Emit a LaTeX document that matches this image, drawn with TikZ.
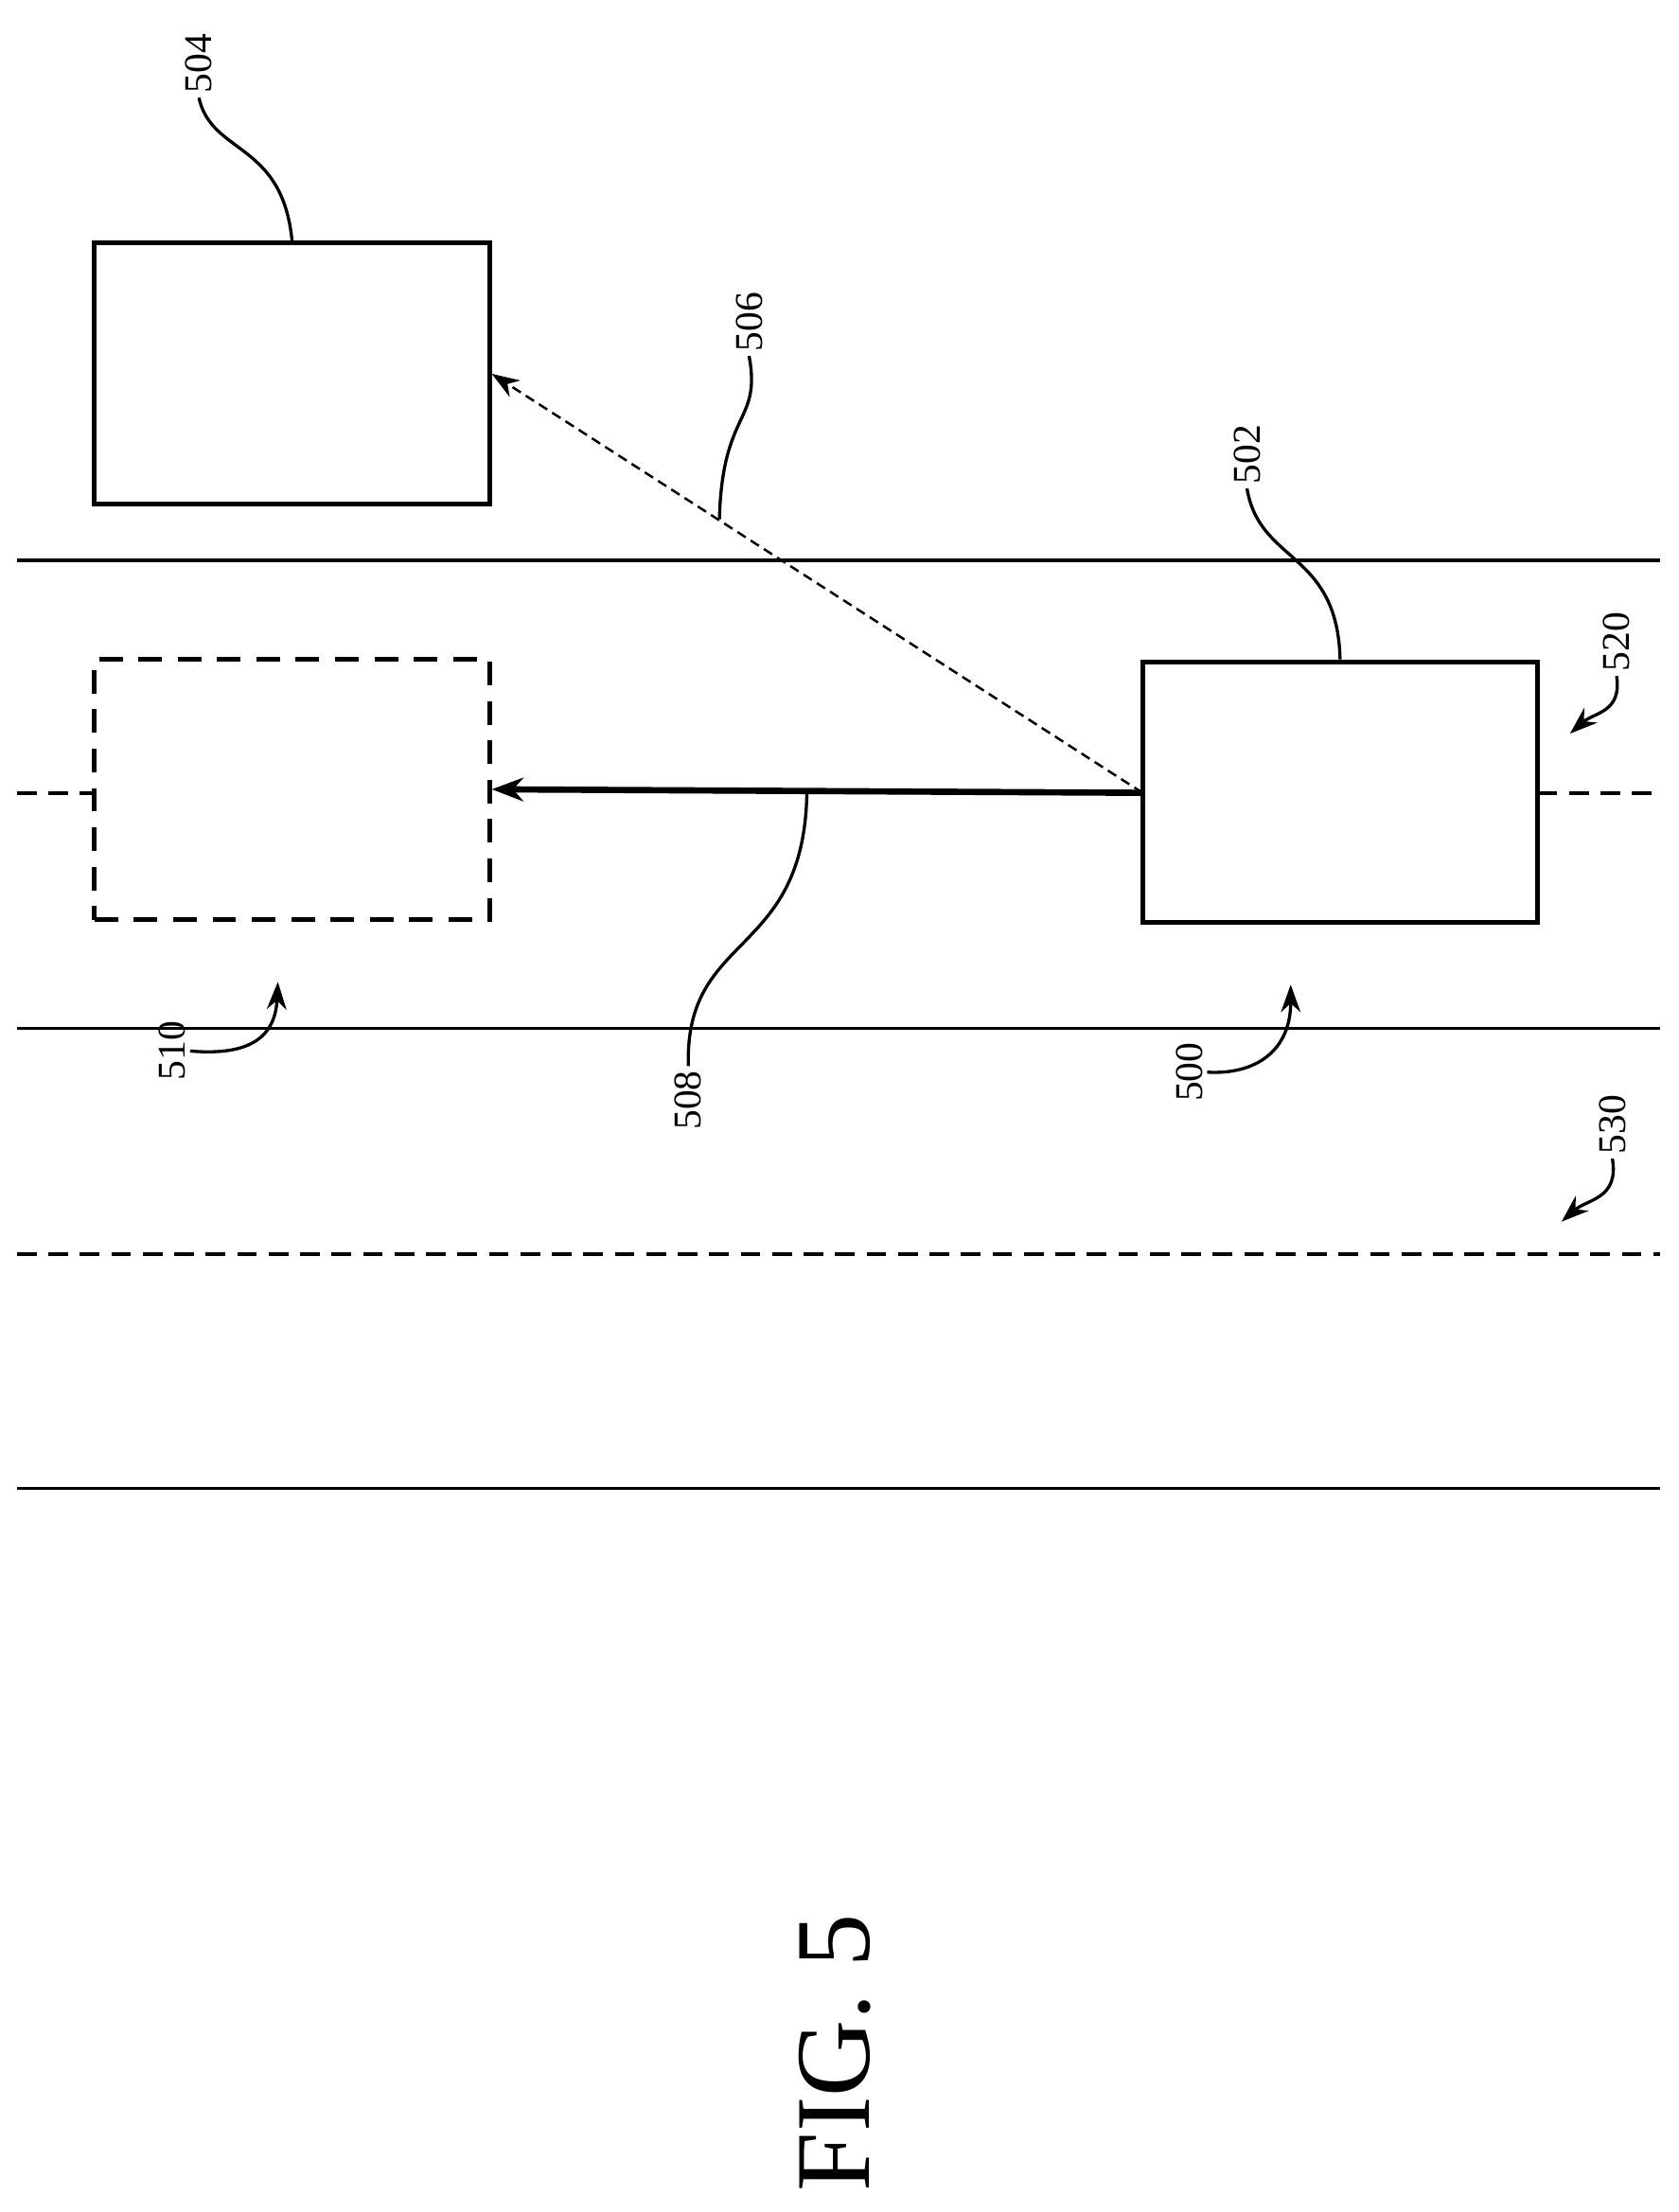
\documentclass[tikz,border=0pt]{standalone}
\usepackage{fontspec}
\setmainfont{Liberation Serif}
\usetikzlibrary{positioning,arrows.meta}
\tikzset{
  car/.style={draw, line width=1.2pt, minimum width=280*0.0126cm, minimum height=185*0.0126cm, inner sep=0pt},
  ghost/.style={car, dash pattern=on 6pt off 4pt},
  lane/.style={line width=0.9pt},
  refnum/.style={rotate=90, font=\fontsize{10}{10}\selectfont, inner sep=1pt},
  lead/.style={line width=0.8pt},
  pointer/.style={line width=0.8pt, -{Stealth[length=7pt,width=5pt]}},
}
\begin{document}
\begin{tikzpicture}[x=0.0126cm,y=-0.0126cm]
  \useasboundingbox (0,0) rectangle (1190,1568);
  % road
  \draw[lane] (12,397) -- (1177,397);
  \draw[lane] (12,729) -- (1177,729);
  \draw[lane] (12,1055) -- (1177,1055);
  \draw[lane, dash pattern=on 5pt off 3pt] (12,889) -- (1177,889);
  \draw[lane, dash pattern=on 5pt off 3pt] (12,562) -- (67,562);
  \draw[lane, dash pattern=on 5pt off 3pt] (1090,562) -- (1177,562);

  % vehicles
  \node[car] (lead) at (207,264.5) {};
  \node[ghost] (target) at (207,559.5) {};
  \node[car] (host) at (950,561.5) {};
  \coordinate (src) at (810,562);

  \draw[line width=0.6pt, dash pattern=on 2.5pt off 1.5pt, -{Stealth[length=7pt,width=5pt]}] (src) -- (lead.east |- 0,265);
  \draw[line width=1.6pt, -{Stealth[length=8pt,width=6pt]}] (src) -- (target.east);

  % labels
  \node[refnum] (n504) at (141,45) {504};
  \draw[lead] (n504.west) .. controls (150,110) and (200,100) .. (lead.north);
  \node[refnum] (n506) at (531,228) {506};
  \coordinate (p506) at (510,368);
  \draw[lead] (n506.west) .. controls (540,300) and (512,290) .. (p506);
  \node[refnum] (n502) at (884,322) {502};
  \draw[lead] (n502.west) .. controls (893,400) and (948,390) .. (host.north);
  \node[refnum] (n508) at (488,780) {508};
  \coordinate (p508) at (572,562);
  \draw[lead] (n508.east) .. controls (485,660) and (570,680) .. (p508);
  \node[refnum] (n520) at (1146,455) {520};
  \coordinate (p520) at (1113,520);
  \draw[pointer] (n520.west) .. controls (1150,505) and (1130,505) .. (p520);
  \node[refnum] (n500) at (843,760) {500};
  \coordinate (p500) at (915,698);
  \draw[pointer] (n500.south) .. controls (890,762) and (915,745) .. (p500);
  \node[refnum] (n510) at (122,745) {510};
  \coordinate (p510) at (197,696);
  \draw[pointer] (n510.south) .. controls (170,748) and (195,740) .. (p510);
  \node[refnum] (n530) at (1143,797) {530};
  \coordinate (p530) at (1107,866);
  \draw[pointer] (n530.west) .. controls (1148,850) and (1125,850) .. (p530);

  \node[rotate=90, font=\fontsize{27}{27}\selectfont] (fig) at (592,1455) {FIG. 5};
\end{tikzpicture}
\end{document}
